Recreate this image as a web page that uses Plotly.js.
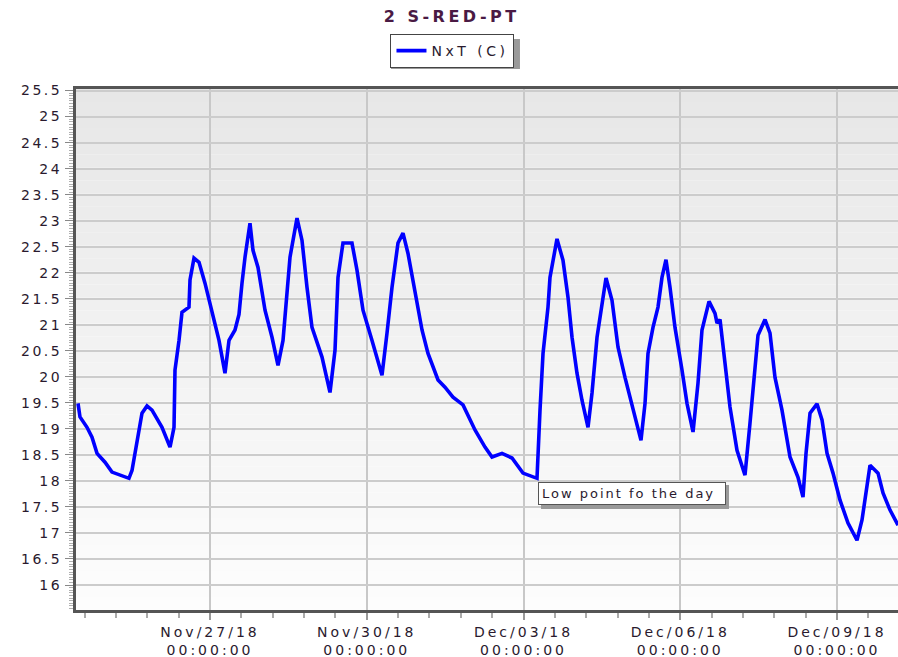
<!DOCTYPE html>
<html>
<head>
<meta charset="utf-8">
<script src="https://cdn.plot.ly/plotly-3.0.1.min.js"></script>
<style>
  html, body { margin: 0; padding: 0; background: #fff; }
  #chart { width: 898px; height: 657px; }
  .xtick text { letter-spacing: 3px; }
  .ytick text { letter-spacing: 2.5px; }
  .legendtext { letter-spacing: 3.5px; }
  .gtitle { letter-spacing: 3.5px; }
  .annotation-text { letter-spacing: 2px; }
</style>
</head>
<body>
<div id="chart"></div>
<script>
// ---- data ----
const seriesName = "NxT (C)";
const chartTitle = "2 S-RED-PT";
const noteText = "Low point fo the day";

const times = [
  "2018-11-24 11:22","2018-11-24 12:17","2018-11-24 15:30","2018-11-24 17:48","2018-11-24 20:06","2018-11-24 23:46",
  "2018-11-25 02:59","2018-11-25 08:58","2018-11-25 10:47","2018-11-25 12:10","2018-11-25 14:28","2018-11-25 16:46",
  "2018-11-25 19:04","2018-11-25 21:22",
  "2018-11-26 01:57","2018-11-26 05:38","2018-11-26 07:28","2018-11-26 07:55","2018-11-26 09:46","2018-11-26 11:08",
  "2018-11-26 14:21","2018-11-26 14:49","2018-11-26 16:39","2018-11-26 18:57","2018-11-26 21:42",
  "2018-11-27 00:55","2018-11-27 04:08","2018-11-27 06:53","2018-11-27 08:44","2018-11-27 11:29","2018-11-27 13:19",
  "2018-11-27 14:42","2018-11-27 16:05","2018-11-27 18:22","2018-11-27 19:45","2018-11-27 22:03",
  "2018-11-28 01:16","2018-11-28 04:29","2018-11-28 07:14","2018-11-28 09:32","2018-11-28 11:22","2018-11-28 12:45",
  "2018-11-28 15:58","2018-11-28 18:16","2018-11-28 20:33","2018-11-28 22:51",
  "2018-11-29 03:27","2018-11-29 07:07","2018-11-29 09:25","2018-11-29 10:48","2018-11-29 13:05","2018-11-29 17:13",
  "2018-11-29 19:31","2018-11-29 22:17",
  "2018-11-30 02:25","2018-11-30 07:00","2018-11-30 09:18","2018-11-30 11:36","2018-11-30 14:21","2018-11-30 16:39",
  "2018-11-30 18:57","2018-11-30 22:10",
  "2018-12-01 01:23","2018-12-01 04:08","2018-12-01 08:44","2018-12-01 11:56","2018-12-01 15:37","2018-12-01 20:13",
  "2018-12-02 01:43","2018-12-02 06:19","2018-12-02 09:32","2018-12-02 14:07","2018-12-02 18:43","2018-12-02 23:46",
  "2018-12-03 06:12","2018-12-03 07:35","2018-12-03 08:58","2018-12-03 11:15","2018-12-03 12:10","2018-12-03 15:23",
  "2018-12-03 15:51","2018-12-03 18:08","2018-12-03 20:26","2018-12-03 22:17",
  "2018-12-04 00:34","2018-12-04 02:52","2018-12-04 05:38","2018-12-04 07:28","2018-12-04 09:46","2018-12-04 12:04",
  "2018-12-04 13:54","2018-12-04 16:39","2018-12-04 19:25","2018-12-04 22:37",
  "2018-12-05 02:18","2018-12-05 05:58","2018-12-05 07:49","2018-12-05 09:11","2018-12-05 11:29","2018-12-05 13:47",
  "2018-12-05 15:37","2018-12-05 17:27","2018-12-05 19:17","2018-12-05 21:35",
  "2018-12-06 00:48","2018-12-06 03:06","2018-12-06 05:52","2018-12-06 08:09","2018-12-06 09:59","2018-12-06 13:13",
  "2018-12-06 15:58","2018-12-06 16:53","2018-12-06 18:16","2018-12-06 19:38","2018-12-06 20:33","2018-12-06 22:51",
  "2018-12-07 02:04","2018-12-07 05:44","2018-12-07 08:02","2018-12-07 10:20","2018-12-07 11:43","2018-12-07 14:56",
  "2018-12-07 17:13","2018-12-07 19:31","2018-12-07 22:44",
  "2018-12-08 02:25","2018-12-08 06:05","2018-12-08 08:23","2018-12-08 09:46","2018-12-08 11:36","2018-12-08 14:49",
  "2018-12-08 17:07","2018-12-08 19:25","2018-12-08 22:10",
  "2018-12-09 01:23","2018-12-09 05:03","2018-12-09 09:11","2018-12-09 11:29","2018-12-09 13:47","2018-12-09 15:10",
  "2018-12-09 18:50","2018-12-09 21:08",
  "2018-12-10 00:21","2018-12-10 04:01"
];

const temps = [
  19.49,19.23,19.03,18.84,18.53,18.36,
  18.17,18.07,18.05,18.20,18.78,19.30,
  19.44,19.36,
  19.03,18.65,19.03,20.13,20.70,21.24,
  21.34,21.86,22.28,22.20,21.80,
  21.22,20.70,20.07,20.70,20.90,21.20,
  21.80,22.30,22.95,22.43,22.10,
  21.28,20.76,20.22,20.70,21.60,22.30,
  23.05,22.62,21.72,20.95,
  20.38,19.70,20.51,21.91,22.57,22.57,
  22.05,21.28,
  20.70,20.03,20.84,21.72,22.57,22.76,
  22.37,21.60,
  20.90,20.45,19.94,19.80,19.61,19.46,
  18.98,18.65,18.46,18.53,18.44,18.15,
  18.05,19.36,20.45,21.34,21.91,22.65,
  22.57,22.24,21.53,20.76,
  20.07,19.55,19.03,19.69,20.76,21.34,
  21.90,21.47,20.57,19.99,
  19.36,18.78,19.49,20.45,20.95,21.34,
  21.91,22.25,21.72,20.95,
  20.13,19.49,18.94,19.88,20.90,21.45,
  21.22,21.03,21.10,20.57,20.19,19.42,
  18.59,18.11,19.11,20.19,20.80,21.10,
  20.84,19.99,19.36,
  18.46,18.07,17.69,18.53,19.30,19.48,
  19.17,18.53,18.15,
  17.63,17.19,16.86,17.25,17.88,18.30,
  18.15,17.77,
  17.44,17.15
];

const noteTime = "2018-12-03 06:40";
const noteValue = 17.98;

// ---- styling ----
const FONT = "DejaVu Sans";
const TXT = "#2a1a2e";

// plot-area background gradient (light grey at top to white at bottom)
const shapes = [];
const bands = 40;
for (let i = 0; i < bands; i++) {
  const f = i / (bands - 1);
  const c = Math.round(253 - (253 - 231) * f);
  shapes.push({
    type: "rect", xref: "paper", yref: "paper", layer: "below",
    x0: 0, x1: 1, y0: i / bands, y1: (i + 1) / bands,
    fillcolor: `rgb(${c},${c},${c})`, line: { width: 0 }
  });
}
// legend drop shadow
shapes.push({
  type: "rect", xref: "paper", yref: "paper", layer: "above",
  x0: 0.3832, x1: 0.5401, y0: 1.0384, y1: 1.0960,
  fillcolor: "#9a9a9a", line: { width: 0 }
});
// note box drop shadow (pixel-sized, anchored at the note position)
shapes.push({
  type: "rect", xref: "x", yref: "y", layer: "above",
  xsizemode: "pixel", ysizemode: "pixel",
  xanchor: noteTime, yanchor: noteValue,
  x0: 3, x1: 191, y0: -3, y1: -27,
  fillcolor: "#9a9a9a", line: { width: 0 }
});

const trace = {
  type: "scatter", mode: "lines", name: seriesName,
  x: times, y: temps,
  line: { color: "#0000ff", width: 3.6, shape: "linear" }
};

const layout = {
  width: 898, height: 657,
  margin: { l: 76, r: 0, t: 89, b: 47 },
  paper_bgcolor: "#ffffff",
  plot_bgcolor: "rgba(0,0,0,0)",
  font: { family: FONT, size: 13, color: TXT },
  title: {
    text: "<b>" + chartTitle + "</b>",
    x: 0.503, xanchor: "center", y: 0.975, yanchor: "middle",
    font: { family: FONT, size: 16, color: "#4a1a44" }
  },
  showlegend: true,
  legend: {
    orientation: "h", x: 0.458, xanchor: "center", y: 1.1055, yanchor: "top",
    bgcolor: "#ffffff", bordercolor: "#444444", borderwidth: 1,
    itemwidth: 30, font: { family: FONT, size: 14, color: TXT }
  },
  xaxis: {
    type: "date",
    range: ["2018-11-24 10:27", "2018-12-10 04:01"],
    tick0: "2018-11-27", dtick: 3 * 86400000,
    tickformat: "%b/%d/%y<br>%H:%M:%S",
    ticks: "outside", ticklen: 7, tickcolor: "#999999", tickwidth: 2,
    showgrid: true, gridcolor: "#c8c8c8", gridwidth: 2,
    showline: true, linecolor: "#555555", linewidth: 3, mirror: true,
    zeroline: false,
    tickfont: { family: FONT, size: 14, color: TXT },
    minor: { tick0: "2018-11-27", dtick: 0.6 * 86400000, ticks: "outside", ticklen: 5, tickcolor: "#aaaaaa", tickwidth: 2, showgrid: false }
  },
  yaxis: {
    range: [15.52, 25.53],
    tick0: 16, dtick: 0.5,
    ticks: "outside", ticklen: 8, tickcolor: "#888888", tickwidth: 1,
    showgrid: true, gridcolor: "#cccccc", gridwidth: 2,
    showline: true, linecolor: "#555555", linewidth: 3,
    zeroline: false,
    tickfont: { family: FONT, size: 14, color: TXT },
    minor: { dtick: 0.05, ticks: "outside", ticklen: 4, tickcolor: "#b0b0b0", tickwidth: 1, showgrid: false }
  },
  shapes: shapes,
  annotations: [
    {
      x: noteTime, y: noteValue, xref: "x", yref: "y",
      xanchor: "left", yanchor: "top", showarrow: false,
      text: noteText, width: 180, align: "left",
      font: { family: FONT, size: 13, color: TXT },
      bgcolor: "#ffffff", bordercolor: "#555555", borderwidth: 1, borderpad: 3
    }
  ]
};

Plotly.newPlot("chart", [trace], layout, { displayModeBar: false, staticPlot: true });
</script>
</body>
</html>
